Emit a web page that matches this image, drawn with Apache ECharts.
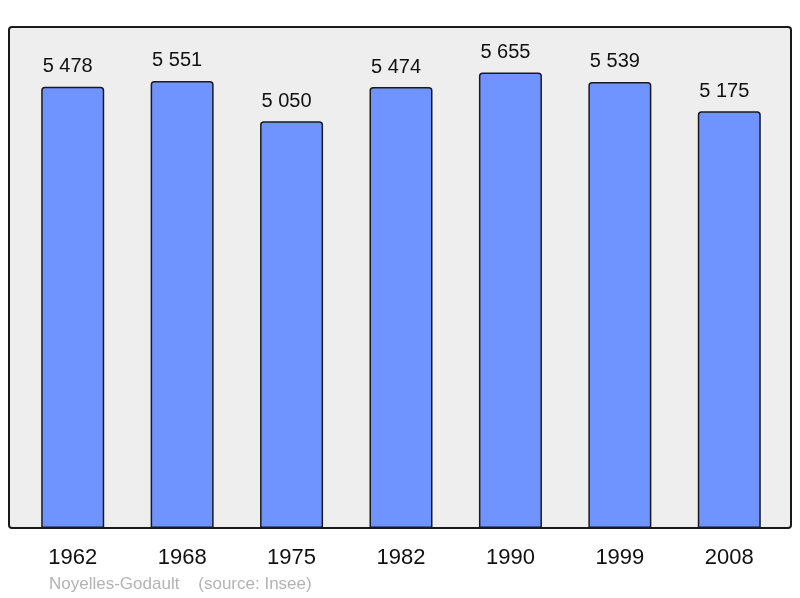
<!DOCTYPE html>
<html>
<head>
<meta charset="utf-8">
<script src="https://cdn.jsdelivr.net/npm/echarts@6/dist/echarts.min.js"></script>
<style>html,body{margin:0;padding:0;background:#fff;}#c{width:800px;height:598px;}</style>
</head>
<body>
<div id="c"></div>
<script>
var years = ['1962', '1968', '1975', '1982', '1990', '1999', '2008'];
var population = [5478, 5551, 5050, 5474, 5655, 5539, 5175];
var sourceText = 'Noyelles-Godault    (source: Insee)';

function fmt(v) {
  return String(v).replace(/\B(?=(\d{3})+(?!\d))/g, ' ');
}

var chart = echarts.init(document.getElementById('c'), null, {renderer: 'canvas'});
var maxVal = Math.max.apply(null, population) * 1.1;
chart.setOption({
  animation: false,
  textStyle: {fontFamily: 'Liberation Sans, Arial, sans-serif'},
  grid: {left: 18, right: 16, top: 27, bottom: 70, containLabel: false},
  graphic: [
    {type: 'rect', z: -10, shape: {x: 9, y: 27, width: 782, height: 501, r: 3},
     style: {fill: '#eeeeee', stroke: '#1a1a1a', lineWidth: 2}},
    {type: 'text', left: 49, top: 576, z: 10,
     style: {text: sourceText, fill: '#b3b3b3', font: '17px "Liberation Sans", Arial, sans-serif'}}
  ],
  xAxis: {
    type: 'category', data: years,
    axisLine: {show: false}, axisTick: {show: false},
    axisLabel: {color: '#111', fontSize: 22, margin: 19, fontFamily: 'Liberation Sans, Arial, sans-serif'}
  },
  yAxis: {
    type: 'value', min: 0, max: maxVal, show: false,
    splitLine: {show: false}
  },
  series: [{
    type: 'bar', data: population, barWidth: 63,
    itemStyle: {color: '#7094ff', borderColor: '#1a1a1a', borderWidth: 1.5, borderRadius: [3, 3, 0, 0]},
    label: {show: true, position: 'top', distance: 10, offset: [-5, 0], color: '#111', fontSize: 20,
            fontFamily: 'Liberation Sans, Arial, sans-serif',
            formatter: function (p) { return fmt(p.value); }}
  }]
});
</script>
</body>
</html>
